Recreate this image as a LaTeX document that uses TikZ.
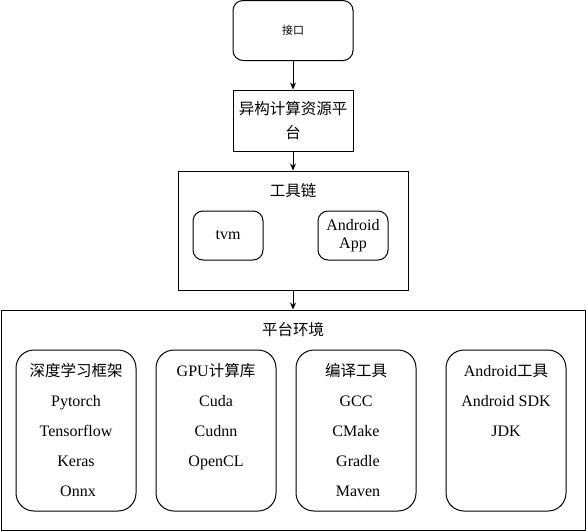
\documentclass[tikz,border=0pt]{standalone}
\usepackage{fontspec}
\setmainfont{Liberation Serif}
\newfontfamily\cjk{Noto Sans CJK SC}
\usetikzlibrary{arrows.meta}
\tikzset{
  box/.style={draw, line width=1pt, minimum width=120pt, minimum height=60pt, inner sep=0pt},
  rbox/.style={box, rounded corners=10pt},
  listbox/.style={draw, line width=1pt, rounded corners=18pt, minimum width=120pt, minimum height=161pt},
  item/.style={font=\fontsize{16}{18}\selectfont, inner sep=0pt, text height=13pt, text depth=1.5pt}
}
\newcommand{\zh}[1]{{\cjk\fontsize{15.5}{18}\selectfont #1}}

\begin{document}
\begin{tikzpicture}[x=1pt, y=-1pt, line width=1pt, >={Stealth[length=7pt,width=6pt]}]
   \useasboundingbox (0,0) rectangle (586,531);

   \draw[]
    (293,30.5) node[rbox](1) {\cjk\fontsize{11}{13}\selectfont 接口}
    (293,120.5) node[box, minimum height=61pt, align=center, font=\cjk\fontsize{15.5}{24}\selectfont](2) {异构计算资源平\\台}
    (293,230.5) node[box, minimum width=230pt, minimum height=119pt](3) {}
    (293,420) node[box, minimum width=584pt, minimum height=220pt](4) {};

   \draw[]
    (1) edge[->] (2)
    (2) edge[->] (3)
    (3) edge[->] (4);

   %tool chain
   \draw[]
    (293,191) node[item](t) {\zh{工具链}}
    (228,235.5) node[rbox, minimum width=70pt, minimum height=49pt, font=\fontsize{16}{18}\selectfont](tvm) {tvm}
    (353,235.5) node[rbox, minimum width=70pt, minimum height=49pt, align=center, font=\fontsize{16}{18}\selectfont](app) {Android\\App};

   %platform
   \draw[]
    (293,330) node[item](p) {\zh{平台环境}}
    (76,430.5) node[listbox](dl) {}
    (216,430.5) node[listbox](gpu) {}
    (356,430.5) node[listbox](cc) {}
    (506,430.5) node[listbox](ad) {};

   \draw[]
    (76,371) node[item](dl0) {\zh{深度学习框架}}
    (76,401) node[item](dl1) {Pytorch}
    (76,431) node[item](dl2) {Tensorflow}
    (76,461) node[item](dl3) {Keras}
    (78,491) node[item](dl4) {Onnx}
    (216,371) node[item](gpu0) {GPU\zh{计算库}}
    (216,401) node[item](gpu1) {Cuda}
    (216,431) node[item](gpu2) {Cudnn}
    (216,461) node[item](gpu3) {OpenCL}
    (356,371) node[item](cc0) {\zh{编译工具}}
    (356,401) node[item](cc1) {GCC}
    (356,431) node[item](cc2) {CMake}
    (358,461) node[item](cc3) {Gradle}
    (358,491) node[item](cc4) {Maven}
    (506,371) node[item](ad0) {Android\zh{工具}}
    (506,401) node[item](ad1) {Android SDK}
    (506,431) node[item](ad2) {JDK};

  \end{tikzpicture}
\end{document}
